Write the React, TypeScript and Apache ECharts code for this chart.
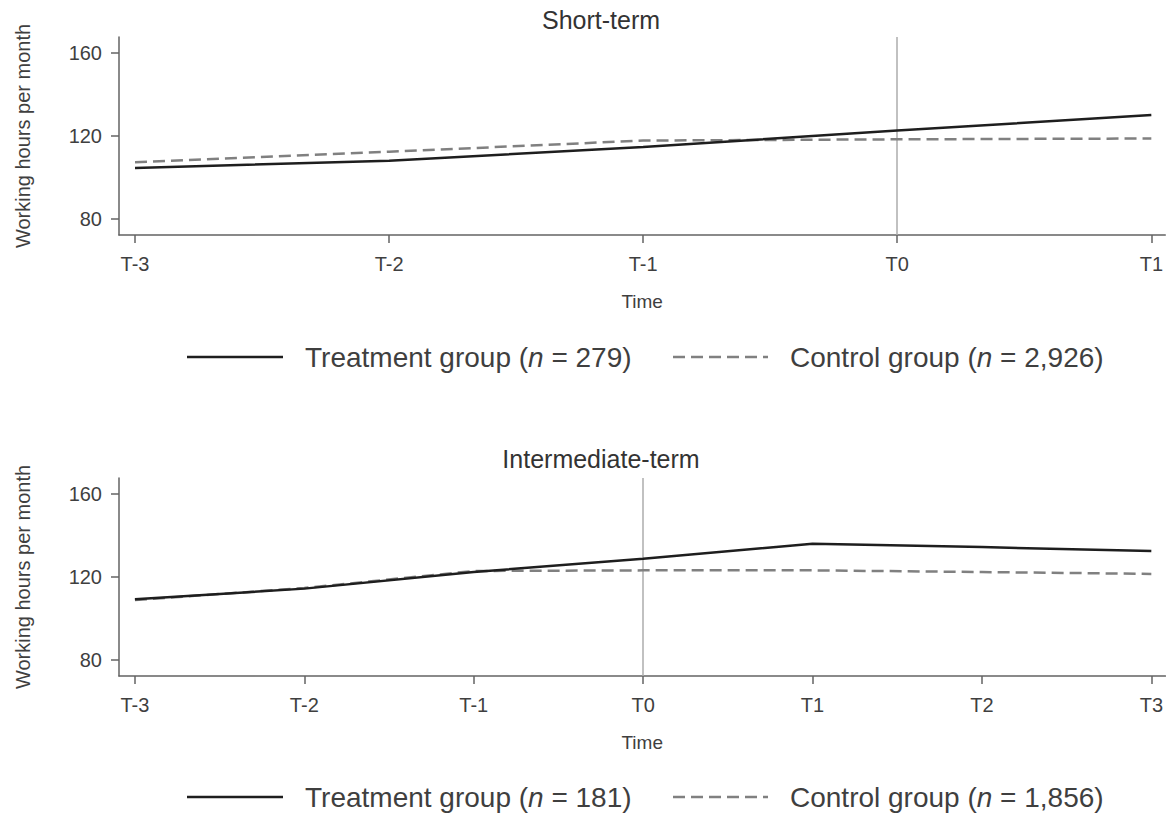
import React, { useEffect, useRef } from "react";
import * as echarts from "echarts";

// ---- Data ----
const shortTicks = [-3, -2, -1, 0, 1];
const shortLabels = ["T-3", "T-2", "T-1", "T0", "T1"];
const shortTreatment = [104.6, 108.1, 114.7, 122.6, 130.1];
const shortControl = [107.3, 112.4, 117.8, 118.4, 118.8];

const interTicks = [-3, -2, -1, 0, 1, 2, 3];
const interLabels = ["T-3", "T-2", "T-1", "T0", "T1", "T2", "T3"];
const interTreatment = [109.3, 114.4, 122.4, 128.8, 136.0, 134.4, 132.5];
const interControl = [108.9, 114.7, 122.9, 123.2, 123.2, 122.4, 121.5];

const yTicks = [80, 120, 160];
const treatmentStart = 0; // T0 reference line

const panelTitles = ["Short-term", "Intermediate-term"];
const shortN = { treatment: "279", control: "2,926" };
const interN = { treatment: "181", control: "1,856" };

const FONT = "'Liberation Sans', Arial, Helvetica, sans-serif";
const TEXT = "#3f3f3f";
const AXIS = "#636363";
const TREAT_COLOR = "#1e1e1e";
const CTRL_COLOR = "#808080";

function labelFor(ticks: number[], labels: string[]) {
  return (v: number) => {
    const i = ticks.indexOf(Math.round(v));
    return i >= 0 ? labels[i] : "";
  };
}

function makeX(gridIndex: number, min: number, max: number, ticks: number[], labels: string[]) {
  return {
    type: "value",
    gridIndex,
    min,
    max,
    name: "Time",
    nameLocation: "middle",
    nameGap: 57,
    nameTextStyle: { fontFamily: FONT, fontSize: 19, color: TEXT },
    axisLine: { show: true, onZero: false, lineStyle: { color: AXIS, width: 1.5 } },
    axisTick: { show: true, length: 8, customValues: ticks, lineStyle: { color: AXIS, width: 1.5 } },
    axisLabel: {
      customValues: ticks,
      formatter: labelFor(ticks, labels),
      fontFamily: FONT,
      fontSize: 20,
      color: TEXT,
      margin: 19,
    },
    splitLine: { show: false },
  };
}

function makeY(gridIndex: number) {
  return {
    type: "value",
    gridIndex,
    min: 72.3,
    max: 167.7,
    name: "Working hours per month",
    nameLocation: "middle",
    nameGap: 86,
    nameTextStyle: { fontFamily: FONT, fontSize: 20, color: TEXT },
    axisLine: { show: true, onZero: false, lineStyle: { color: AXIS, width: 1.5 } },
    axisTick: { show: true, length: 8, customValues: yTicks, lineStyle: { color: AXIS, width: 1.5 } },
    axisLabel: {
      customValues: yTicks,
      formatter: (v: number) => String(Math.round(v)),
      fontFamily: FONT,
      fontSize: 20,
      color: TEXT,
      margin: 17,
    },
    splitLine: { show: false },
  };
}

function legendGraphics(y: number, n: { treatment: string; control: string }) {
  const rich = {
    a: { fontFamily: FONT, fontSize: 28, fill: TEXT },
    i: { fontFamily: FONT, fontSize: 28, fill: TEXT, fontStyle: "italic" },
  };
  return [
    {
      type: "line",
      shape: { x1: 187, y1: y, x2: 283, y2: y },
      style: { stroke: TREAT_COLOR, lineWidth: 2.5 },
    },
    {
      type: "text",
      x: 305,
      y,
      style: {
        text: `{a|Treatment group (}{i|n}{a| = ${n.treatment})}`,
        rich,
        verticalAlign: "middle",
        align: "left",
      },
    },
    {
      type: "line",
      shape: { x1: 673, y1: y, x2: 768, y2: y },
      style: { stroke: CTRL_COLOR, lineWidth: 2.5, lineDash: [12, 6] },
    },
    {
      type: "text",
      x: 790,
      y,
      style: {
        text: `{a|Control group (}{i|n}{a| = ${n.control})}`,
        rich,
        verticalAlign: "middle",
        align: "left",
      },
    },
  ];
}

function lineSeries(name: string, xi: number, xs: number[], ys: number[], dashed: boolean, markT0: boolean) {
  const s: any = {
    type: "line",
    name,
    xAxisIndex: xi,
    yAxisIndex: xi,
    data: xs.map((x, i) => [x, ys[i]]),
    symbol: "none",
    z: dashed ? 3 : 4,
    lineStyle: dashed
      ? { color: CTRL_COLOR, width: 2.5, type: [12, 6] }
      : { color: TREAT_COLOR, width: 2.5 },
  };
  if (markT0) {
    s.markLine = {
      silent: true,
      symbol: ["none", "none"],
      label: { show: false },
      lineStyle: { color: "#adadad", width: 1.5, type: "solid" },
      data: [{ xAxis: treatmentStart }],
      z: 1,
    };
  }
  return s;
}

export default function App() {
  const ref = useRef<HTMLDivElement>(null);
  useEffect(() => {
    if (!ref.current) return;
    const chart = echarts.init(ref.current, undefined, { renderer: "svg" });
    chart.setOption({
      animation: false,
      backgroundColor: "#ffffff",
      grid: [
        { left: 119, top: 37, width: 1047, height: 198 },
        { left: 119, top: 478, width: 1047, height: 198 },
      ],
      xAxis: [
        makeX(0, -3.063, 1.055, shortTicks, shortLabels),
        makeX(1, -3.094, 3.083, interTicks, interLabels),
      ],
      yAxis: [makeY(0), makeY(1)],
      series: [
        lineSeries(`Control group (n = ${shortN.control})`, 0, shortTicks, shortControl, true, true),
        lineSeries(`Treatment group (n = ${shortN.treatment})`, 0, shortTicks, shortTreatment, false, false),
        lineSeries(`Control group (n = ${interN.control}) `, 1, interTicks, interControl, true, true),
        lineSeries(`Treatment group (n = ${interN.treatment}) `, 1, interTicks, interTreatment, false, false),
      ],
      graphic: [
        {
          type: "text",
          x: 601,
          y: 20,
          style: { text: panelTitles[0], fontFamily: FONT, fontSize: 25, fill: "#333333", align: "center", verticalAlign: "middle" },
        },
        {
          type: "text",
          x: 601,
          y: 459,
          style: { text: panelTitles[1], fontFamily: FONT, fontSize: 25, fill: "#333333", align: "center", verticalAlign: "middle" },
        },
        ...legendGraphics(357, shortN),
        ...legendGraphics(797, interN),
      ],
    });
    return () => chart.dispose();
  }, []);
  return <div ref={ref} style={{ position: "absolute", left: 0, top: 0, width: 1166, height: 815 }} />;
}
